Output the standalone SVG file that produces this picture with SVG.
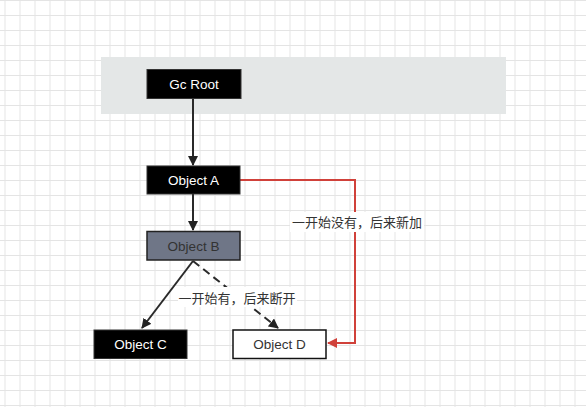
<svg xmlns="http://www.w3.org/2000/svg" width="586" height="407" viewBox="0 0 586 407">
<defs>
<pattern id="grid" width="15" height="15" patternUnits="userSpaceOnUse" x="4.5" y="0">
<path d="M0 0.5 H15 M0.5 0 V15" fill="none" stroke="#e4e4e4" stroke-width="1"/>
</pattern>
<marker id="ah" viewBox="0 0 10 10" refX="9" refY="5" markerWidth="10" markerHeight="10" markerUnits="userSpaceOnUse" orient="auto">
<path d="M0 0 L10 5 L0 10 Z" fill="#222"/>
</marker>
<marker id="ahr" viewBox="0 0 10 10" refX="9" refY="5" markerWidth="10" markerHeight="10" markerUnits="userSpaceOnUse" orient="auto">
<path d="M0 0 L10 5 L0 10 Z" fill="#d0413a"/>
</marker>
<style>
.lbl{font-family:"Liberation Sans","Noto Sans CJK SC",sans-serif;font-size:13.5px;text-anchor:middle;dominant-baseline:central}
.cn{font-family:"Noto Sans CJK SC","Liberation Sans",sans-serif;font-size:13px;fill:#333;text-anchor:middle;dominant-baseline:central}
.edge{fill:none;stroke:#2a2a2a;stroke-width:2}
</style>
</defs>
<rect width="586" height="407" fill="#fff"/>
<rect width="586" height="407" fill="url(#grid)"/>
<rect x="101" y="57" width="405" height="57" fill="#e4e7e7"/>
<g id="connectors">
<path class="edge" d="M193 99 V165" marker-end="url(#ah)"/>
<path class="edge" d="M193 194 V230" marker-end="url(#ah)"/>
<path class="edge" d="M193 261 L142 328" marker-end="url(#ah)"/>
<path class="edge" d="M193 261 L278 328" stroke-dasharray="8 5" marker-end="url(#ah)"/>
<path d="M240 180 H355 V343 H328" fill="none" stroke="#d0413a" stroke-width="2" marker-end="url(#ahr)"/>
<rect x="290" y="212" width="134" height="20" fill="#fff"/>
<text class="cn" x="357" y="221">一开始没有，后来新加</text>
<rect x="178" y="287" width="119" height="20" fill="#fff"/>
<text class="cn" x="237" y="297">一开始有，后来断开</text>
</g>
<g id="gcroot">
<rect x="147" y="69.5" width="94" height="29" fill="#000" stroke="#333" stroke-width="1"/>
<text class="lbl" x="194" y="84" fill="#fff">Gc Root</text>
</g>
<g id="objA">
<rect x="147" y="166" width="93" height="28" fill="#000" stroke="#333" stroke-width="1"/>
<text class="lbl" x="193.5" y="180" fill="#fff">Object A</text>
</g>
<g id="objB">
<rect x="147" y="231.5" width="93" height="28.5" fill="#6f7687" stroke="#222" stroke-width="1.5"/>
<text class="lbl" x="193.5" y="246" fill="#333">Object B</text>
</g>
<g id="objC">
<rect x="94" y="330" width="93" height="28.5" fill="#000" stroke="#333" stroke-width="1"/>
<text class="lbl" x="140.5" y="344.5" fill="#fff">Object C</text>
</g>
<g id="objD">
<rect x="233" y="330" width="93" height="28.5" fill="#fff" stroke="#111" stroke-width="1.5"/>
<text class="lbl" x="279.5" y="344.5" fill="#333">Object D</text>
</g>
</svg>
